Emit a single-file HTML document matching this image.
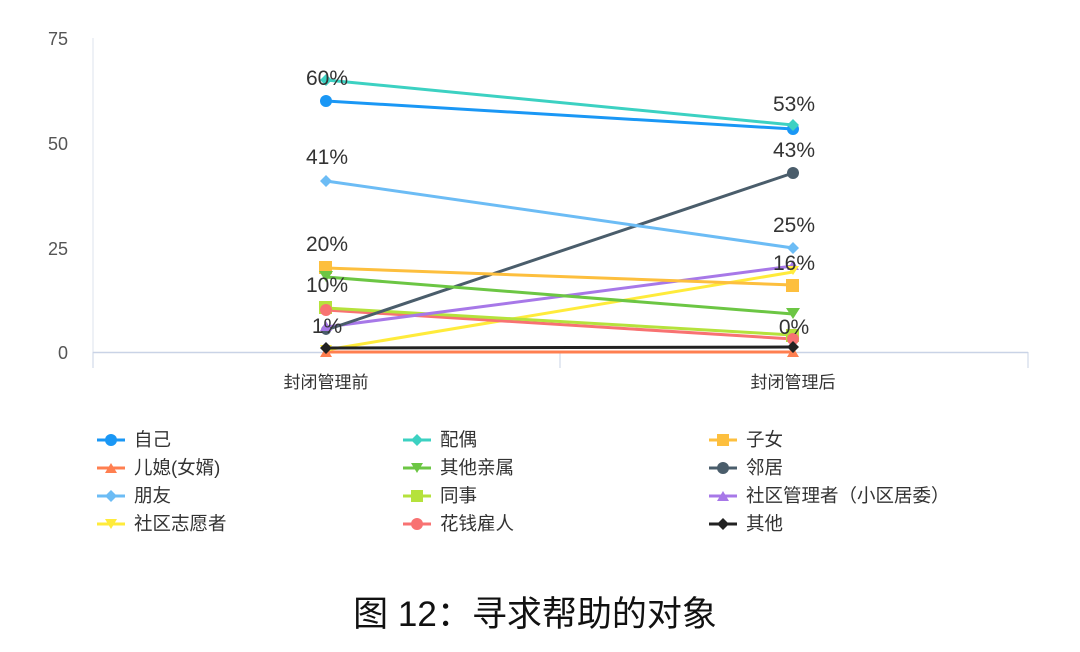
<!DOCTYPE html>
<html><head><meta charset="utf-8"><style>
body{margin:0;background:#fff;}
svg text{font-family:"Liberation Sans","Noto Sans CJK SC",sans-serif;}
</style></head><body>
<svg width="1080" height="647" viewBox="0 0 1080 647" xmlns="http://www.w3.org/2000/svg">
<g fill="#555" font-size="18" text-anchor="end">
<text x="68" y="45">75</text><text x="68" y="150">50</text><text x="68" y="255">25</text><text x="68" y="359">0</text>
</g>
<line x1="93" y1="38" x2="93" y2="352" stroke="#dde3ee"/>
<line x1="93" y1="352.5" x2="1028" y2="352.5" stroke="#c9d3e6" stroke-width="1.5"/>
<line x1="93" y1="352" x2="93" y2="368" stroke="#c9d3e6"/>
<line x1="560" y1="352" x2="560" y2="368" stroke="#c9d3e6"/>
<line x1="1028" y1="352" x2="1028" y2="368" stroke="#c9d3e6"/>
<g font-size="17" fill="#333" text-anchor="middle">
<text x="326" y="388">封闭管理前</text><text x="793" y="388">封闭管理后</text>
</g>
<g stroke-width="3" fill="none">
<line x1="326" y1="352" x2="793" y2="352" stroke="#ff7f50"/>
<line x1="326" y1="350" x2="793" y2="272" stroke="#ffeb3b"/>
<line x1="326" y1="310" x2="793" y2="339" stroke="#f87272"/>
<line x1="326" y1="308" x2="793" y2="335" stroke="#b5e23c"/>
<line x1="326" y1="327" x2="793" y2="266" stroke="#a778e8"/>
<line x1="326" y1="330" x2="793" y2="173" stroke="#4a5d6b"/>
<line x1="326" y1="277" x2="793" y2="314" stroke="#6cc644"/>
<line x1="326" y1="268" x2="793" y2="285" stroke="#fdbf3e"/>
<line x1="326" y1="181" x2="793" y2="248" stroke="#6cbcf5"/>
<line x1="326" y1="80" x2="793" y2="125" stroke="#3cd1c2"/>
<line x1="326" y1="101" x2="793" y2="129" stroke="#1a97f5"/>
<line x1="326" y1="348" x2="793" y2="347" stroke="#222"/>
</g>
<g>
<circle cx="326" cy="101" r="6" fill="#1a97f5"/><circle cx="793" cy="129" r="6" fill="#1a97f5"/>
<path d="M326 74l6 6-6 6-6-6z M793 119l6 6-6 6-6-6z" fill="#3cd1c2"/>
<rect x="319" y="261" width="13" height="13" fill="#fdbf3e"/><rect x="786" y="279" width="13" height="13" fill="#fdbf3e"/>
<circle cx="793" cy="173" r="6" fill="#4a5d6b"/><circle cx="326" cy="330" r="5" fill="#4a5d6b"/>
<path d="M326 175l6 6-6 6-6-6z M793 242l6 6-6 6-6-6z" fill="#6cbcf5"/>
<path d="M319 271h14l-7 11z M786 308h14l-7 11z" fill="#6cc644"/>
<rect x="319" y="301" width="13" height="13" fill="#b5e23c"/><rect x="786" y="329" width="13" height="13" fill="#b5e23c"/>
<circle cx="326" cy="310" r="6" fill="#f87272"/><circle cx="793" cy="339" r="6" fill="#f87272"/>
<path d="M320 331l6-10 6 10z M787 270l6-10 6 10z" fill="#a778e8"/>
<path d="M320 345h12l-6 9z M787 266h12l-6 9z" fill="#ffeb3b"/>
<path d="M320 357l6-10 6 10z M787 357l6-10 6 10z" fill="#ff7f50"/>
<path d="M326 342l6 6-6 6-6-6z M793 341l6 6-6 6-6-6z" fill="#222"/>
</g>
<g font-size="21" fill="#333" text-anchor="middle">
<text x="327" y="85">60%</text><text x="794" y="111">53%</text>
<text x="327" y="164">41%</text><text x="794" y="157">43%</text>
<text x="794" y="232">25%</text><text x="327" y="251">20%</text>
<text x="794" y="270">16%</text><text x="327" y="292">10%</text>
<text x="794" y="334">0%</text><text x="327" y="333">1%</text>
</g>
<g font-size="18.5" fill="#333">
<line x1="97" y1="440" x2="125" y2="440" stroke="#1a97f5" stroke-width="3"/><circle cx="111" cy="440" r="6" fill="#1a97f5"/><text x="134" y="446">自己</text>
<line x1="403" y1="440" x2="431" y2="440" stroke="#3cd1c2" stroke-width="3"/><path d="M417 434l6 6-6 6-6-6z" fill="#3cd1c2"/><text x="440" y="446">配偶</text>
<line x1="709" y1="440" x2="737" y2="440" stroke="#fdbf3e" stroke-width="3"/><rect x="717" y="434" width="12" height="12" fill="#fdbf3e"/><text x="746" y="446">子女</text>
<line x1="97" y1="468" x2="125" y2="468" stroke="#ff7f50" stroke-width="3"/><path d="M105 473l6-10 6 10z" fill="#ff7f50"/><text x="134" y="474">儿媳(女婿)</text>
<line x1="403" y1="468" x2="431" y2="468" stroke="#6cc644" stroke-width="3"/><path d="M411 463h12l-6 10z" fill="#6cc644"/><text x="440" y="474">其他亲属</text>
<line x1="709" y1="468" x2="737" y2="468" stroke="#4a5d6b" stroke-width="3"/><circle cx="723" cy="468" r="6" fill="#4a5d6b"/><text x="746" y="474">邻居</text>
<line x1="97" y1="496" x2="125" y2="496" stroke="#6cbcf5" stroke-width="3"/><path d="M111 490l6 6-6 6-6-6z" fill="#6cbcf5"/><text x="134" y="502">朋友</text>
<line x1="403" y1="496" x2="431" y2="496" stroke="#b5e23c" stroke-width="3"/><rect x="411" y="490" width="12" height="12" fill="#b5e23c"/><text x="440" y="502">同事</text>
<line x1="709" y1="496" x2="737" y2="496" stroke="#a778e8" stroke-width="3"/><path d="M717 501l6-10 6 10z" fill="#a778e8"/><text x="746" y="502">社区管理者（小区居委）</text>
<line x1="97" y1="524" x2="125" y2="524" stroke="#ffeb3b" stroke-width="3"/><path d="M105 519h12l-6 10z" fill="#ffeb3b"/><text x="134" y="530">社区志愿者</text>
<line x1="403" y1="524" x2="431" y2="524" stroke="#f87272" stroke-width="3"/><circle cx="417" cy="524" r="6" fill="#f87272"/><text x="440" y="530">花钱雇人</text>
<line x1="709" y1="524" x2="737" y2="524" stroke="#222" stroke-width="3"/><path d="M723 518l6 6-6 6-6-6z" fill="#222"/><text x="746" y="530">其他</text>
</g>
<text x="535" y="626" font-size="35" fill="#111" text-anchor="middle">图 12：寻求帮助的对象</text>
</svg>
</body></html>
